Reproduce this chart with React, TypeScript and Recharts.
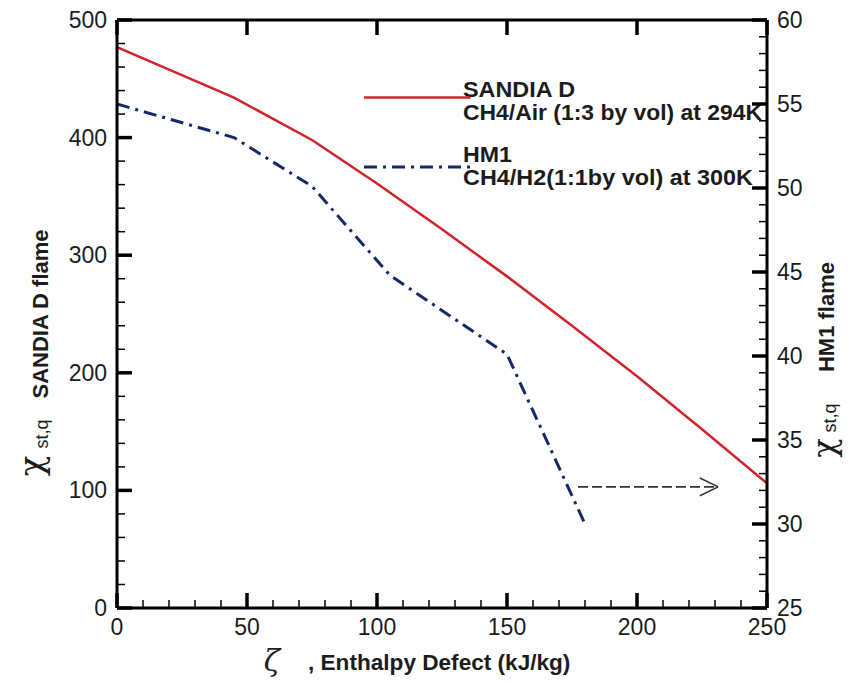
import React from 'react';
import { LineChart, Line, XAxis, YAxis, ReferenceLine, Customized } from 'recharts';

// ---- data ----
const sandiaX = [0, 45, 75, 100, 125, 150, 175, 200, 225, 250];
const sandiaChi = [477, 434, 398, 361, 322, 282, 240, 197, 152, 106];
const hm1X = [0, 45, 75, 105, 150, 180];
const hm1Chi = [55.0, 53.0, 50.1, 44.8, 40.1, 30.0];

const xTicks = [0, 10, 20, 30, 40, 50, 60, 70, 80, 90, 100, 110, 120, 130, 140, 150, 160, 170, 180, 190, 200, 210, 220, 230, 240, 250];
const xMajor = [0, 50, 100, 150, 200, 250];
const leftTicks = [0, 20, 40, 60, 80, 100, 120, 140, 160, 180, 200, 220, 240, 260, 280, 300, 320, 340, 360, 380, 400, 420, 440, 460, 480, 500];
const leftMajor = [0, 100, 200, 300, 400, 500];
const rightTicks = [25, 26, 27, 28, 29, 30, 31, 32, 33, 34, 35, 36, 37, 38, 39, 40, 41, 42, 43, 44, 45, 46, 47, 48, 49, 50, 51, 52, 53, 54, 55, 56, 57, 58, 59, 60];
const rightMajor = [25, 30, 35, 40, 45, 50, 55, 60];

const sandiaData = sandiaX.map((x, i) => ({ x, y: sandiaChi[i] }));
const hm1Data = hm1X.map((x, i) => ({ x, y: hm1Chi[i] }));

const FONT = '"Liberation Sans", Arial, Helvetica, sans-serif';
const TXT = '#1c1c1c';
const MINOR = 8;
// major tick length (15 px) expressed in axis data units
const X_MAJ = 15 / 2.6;
const L_MAJ = 15 / 1.176;

const LeftTick = (p: any) => {
  const { x, y, payload } = p;
  const v = payload.value;
  if (v % 100 !== 0) return <g />;
  return (
    <text x={x - 10} y={y} textAnchor="end" dominantBaseline="central" fontSize={23} fontFamily={FONT} fill={TXT} stroke="none">
      {v}
    </text>
  );
};

const RightTick = (p: any) => {
  const { x, y, payload } = p;
  const v = payload.value;
  if (v % 5 !== 0) return <g />;
  return (
    <text x={x + 10} y={y} textAnchor="start" dominantBaseline="central" fontSize={23} fontFamily={FONT} fill={TXT} stroke="none">
      {v}
    </text>
  );
};

const BottomTick = (p: any) => {
  const { x, y, payload } = p;
  const v = payload.value;
  if (v % 50 !== 0) return <g />;
  return (
    <text x={x} y={y + 27} textAnchor="middle" fontSize={23} fontFamily={FONT} fill={TXT} stroke="none">
      {v}
    </text>
  );
};

const Annotations = () => (
  <g fontFamily={FONT} fill={TXT}>
    <text x={455} y={89} fontSize={22} fontWeight="bold" textLength={112} lengthAdjust="spacingAndGlyphs">SANDIA D</text>
    <text x={455} y={112} fontSize={22} fontWeight="bold" textLength={299} lengthAdjust="spacingAndGlyphs">CH4/Air (1:3 by vol) at 294K</text>
    <text x={455} y={154} fontSize={22} fontWeight="bold" textLength={49} lengthAdjust="spacingAndGlyphs">HM1</text>
    <text x={455} y={177} fontSize={22} fontWeight="bold" textLength={290} lengthAdjust="spacingAndGlyphs">CH4/H2(1:1by vol) at 300K</text>

    <text x={40} y={306} transform="rotate(-90 40 306)" textAnchor="middle" fontSize={22} fontWeight="bold">SANDIA D flame</text>
    <text x={23} y={458} transform="rotate(-90 23 458)" textAnchor="middle" dominantBaseline="central" fontSize={34} fontFamily='"DejaVu Serif", serif'>χ</text>
    <text x={40} y={426} transform="rotate(-90 40 426)" textAnchor="middle" fontSize={18}>st,q</text>

    <text x={826} y={309} transform="rotate(-90 826 309)" textAnchor="middle" fontSize={22} fontWeight="bold">HM1 flame</text>
    <text x={816} y={440} transform="rotate(-90 816 440)" textAnchor="middle" dominantBaseline="central" fontSize={32} fontFamily='"DejaVu Serif", serif'>χ</text>
    <text x={828} y={410} transform="rotate(-90 828 410)" textAnchor="middle" fontSize={18}>st,q</text>

    <text x={264} y={663} textAnchor="middle" fontSize={30} fontStyle="italic" fontFamily='"DejaVu Serif", serif'>ζ</text>
    <text x={300} y={662} fontSize={22.6} fontWeight="bold">, Enthalpy Defect (kJ/kg)</text>
  </g>
);

const axisLine = { stroke: '#000', strokeWidth: 3 };
const tickLine = { stroke: '#000', strokeWidth: 1.5 };
const MAJ = { stroke: '#000', strokeWidth: 3.5 };

export default function App() {
  return (
    <div style={{ width: 848, height: 675, background: '#fff' }}>
      <LineChart width={848} height={675} margin={{ top: 0, right: 0, bottom: 0, left: 0 }}>
        <XAxis xAxisId="bottom" dataKey="x" type="number" domain={[0, 250]} ticks={xTicks} interval={0} height={75}
          tickSize={-MINOR} tickMargin={MINOR} tickLine={tickLine} tick={<BottomTick />} axisLine={axisLine} allowDataOverflow />
        <XAxis xAxisId="top" orientation="top" dataKey="x" type="number" domain={[0, 250]} ticks={xTicks} interval={0} height={12}
          tickSize={-MINOR} tickMargin={MINOR} tickLine={tickLine} tick={false} axisLine={axisLine} allowDataOverflow />
        <YAxis yAxisId="left" type="number" domain={[0, 500]} ticks={leftTicks} interval={0} width={109}
          tickSize={-MINOR} tickMargin={MINOR} tickLine={tickLine} tick={<LeftTick />} axisLine={axisLine} allowDataOverflow />
        <YAxis yAxisId="right" orientation="right" type="number" domain={[25, 60]} ticks={rightTicks} interval={0} width={89}
          tickSize={-MINOR} tickMargin={MINOR} tickLine={tickLine} tick={<RightTick />} axisLine={axisLine} allowDataOverflow />

        {/* major tick marks pointing into the plot */}
        {leftMajor.map((v) => (
          <ReferenceLine key={`lm${v}`} xAxisId="bottom" yAxisId="left" segment={[{ x: 0, y: v }, { x: X_MAJ, y: v }]} {...MAJ} />
        ))}
        {rightMajor.map((v) => (
          <ReferenceLine key={`rm${v}`} xAxisId="bottom" yAxisId="right" segment={[{ x: 250 - X_MAJ, y: v }, { x: 250, y: v }]} {...MAJ} />
        ))}
        {xMajor.map((v) => (
          <ReferenceLine key={`bm${v}`} xAxisId="bottom" yAxisId="left" segment={[{ x: v, y: 0 }, { x: v, y: L_MAJ }]} {...MAJ} />
        ))}
        {xMajor.map((v) => (
          <ReferenceLine key={`tm${v}`} xAxisId="bottom" yAxisId="left" segment={[{ x: v, y: 500 - L_MAJ }, { x: v, y: 500 }]} {...MAJ} />
        ))}

        <Line xAxisId="bottom" yAxisId="left" data={sandiaData} dataKey="y" type="linear" stroke="#d1232b" strokeWidth={2.5} dot={false} isAnimationActive={false} />
        <Line xAxisId="bottom" yAxisId="right" data={hm1Data} dataKey="y" type="linear" stroke="#16286b" strokeWidth={3} strokeDasharray="13 6 3 6" dot={false} isAnimationActive={false} />

        {/* legend lines */}
        <ReferenceLine xAxisId="bottom" yAxisId="left" segment={[{ x: 95, y: 434 }, { x: 136, y: 434 }]} stroke="#d1232b" strokeWidth={2.5} />
        <ReferenceLine xAxisId="bottom" yAxisId="left" segment={[{ x: 95, y: 375 }, { x: 136, y: 375 }]} stroke="#16286b" strokeWidth={3} strokeDasharray="13 6 3 6" />

        {/* arrow to right axis */}
        <ReferenceLine xAxisId="bottom" yAxisId="left" segment={[{ x: 177.3, y: 103 }, { x: 231, y: 103 }]} stroke="#333" strokeWidth={1.6} strokeDasharray="10 4" />
        <ReferenceLine xAxisId="bottom" yAxisId="left" segment={[{ x: 224.2, y: 110.5 }, { x: 231.2, y: 103 }]} stroke="#333" strokeWidth={1.6} />
        <ReferenceLine xAxisId="bottom" yAxisId="left" segment={[{ x: 224.2, y: 95.5 }, { x: 231.2, y: 103 }]} stroke="#333" strokeWidth={1.6} />

        <Customized component={Annotations} />
      </LineChart>
    </div>
  );
}
